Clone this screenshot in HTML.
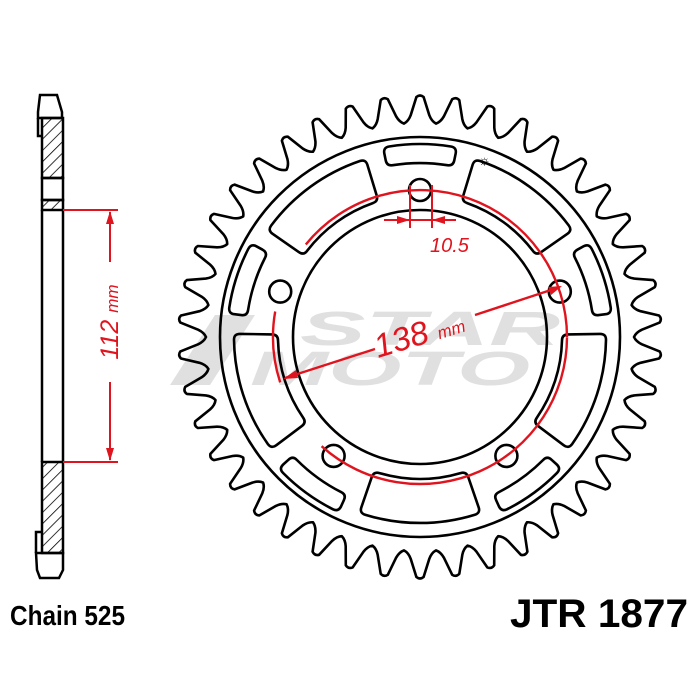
<!DOCTYPE html>
<html><head><style>
html,body{margin:0;padding:0;background:#fff;width:700px;height:700px;overflow:hidden}
svg{display:block}
text{font-family:"Liberation Sans",sans-serif}
</style></head><body>
<svg id="s" width="700" height="700" viewBox="0 0 700 700" xmlns="http://www.w3.org/2000/svg">
<defs>
<pattern id="h" width="8" height="8" patternUnits="userSpaceOnUse" patternTransform="rotate(45)">
<line x1="0" y1="0" x2="0" y2="8" stroke="#000" stroke-width="1.6"/>
</pattern>
</defs>
<g opacity="0.22" fill="#777" font-style="italic" font-weight="bold">
<text x="300" y="345" font-size="48" textLength="260" lengthAdjust="spacingAndGlyphs">STAR</text>
<text x="250" y="385" font-size="48" textLength="280" lengthAdjust="spacingAndGlyphs">MOTO</text>
<polygon points="170,385 215,315 255,315 210,385"/>
</g>
<g stroke="#000" stroke-width="2.5" fill="none">
<path d="M40,95 L57,95 L62,112 L62,118 L38,118 L38,112 Z"/>
<rect x="42" y="118" width="21" height="60" fill="url(#h)"/>
<path d="M38,118 L38,136 L42,136"/>
<rect x="42" y="178" width="21" height="22"/>
<rect x="42" y="200" width="21" height="10" fill="url(#h)"/>
<line x1="42" y1="210" x2="42" y2="462"/>
<line x1="63" y1="210" x2="63" y2="462"/>
<rect x="42" y="462" width="21" height="91" fill="url(#h)"/>
<path d="M42,532 L36,532 L36,553"/>
<path d="M36,553 L63,553 L63,570 L59,578 L40,578 L37,570 Z"/>
</g>
<g stroke="#e0141e" stroke-width="2" fill="#e0141e">
<line x1="63" y1="210" x2="118" y2="210"/>
<line x1="63" y1="462" x2="118" y2="462"/>
<line x1="110" y1="212" x2="110" y2="262" fill="none"/>
<line x1="110" y1="382" x2="110" y2="460" fill="none"/>
<polygon points="110,211 106,224 114,224" stroke="none"/>
<polygon points="110,461 106,448 114,448" stroke="none"/>
</g>
<text transform="translate(118,322) rotate(-90)" text-anchor="middle" font-size="25" font-style="italic" fill="#e0141e">112 <tspan font-size="17">mm</tspan></text>
<g id="spr" stroke="#000" stroke-width="2.6" fill="none" stroke-linejoin="round"></g>
<g stroke="#e0141e" stroke-width="2.4" fill="none" id="red"></g>
<g fill="#e0141e" stroke="#e0141e" stroke-width="2">
<line x1="410" y1="185" x2="410" y2="228"/>
<line x1="432" y1="185" x2="432" y2="228"/>
<line x1="384" y1="220" x2="456" y2="220"/>
<polygon points="410,220 397,216 397,224" stroke="none"/>
<polygon points="432,220 445,216 445,224" stroke="none"/>
</g>
<text x="430" y="252" font-size="20" font-style="italic" fill="#e0141e">10.5</text>
<text x="378" y="358" font-size="33" font-style="italic" fill="#e0141e" transform="rotate(-17 378 358)">138 <tspan font-size="17">mm</tspan></text>
<text x="10" y="625" font-size="28" font-weight="bold" textLength="115" lengthAdjust="spacingAndGlyphs">Chain 525</text>
<text x="510" y="627" font-size="40" font-weight="bold" textLength="178" lengthAdjust="spacingAndGlyphs">JTR 1877</text>
<text x="478" y="165" font-size="14">☼</text>
</svg>
<script>
var cx=420,cy=337,N=42,R=240,r=214;
function P(rr,a){return [(cx+rr*Math.cos(a)).toFixed(1),(cy-rr*Math.sin(a)).toFixed(1)];}
var d="",st=2*Math.PI/N;
for(var i=0;i<N;i++){var a=Math.PI/2+i*st;
 var p1=P(r,a-st*0.5),p2=P(r+8,a-st*0.28),p3=P(R,a-st*0.1),p4=P(R,a+st*0.1),p5=P(r+8,a+st*0.28);
 d+=(i?"L":"M")+p1+" Q"+P(r+2,a-st*0.36)+" "+p2+" L"+p3+" Q"+P(R+3,a)+" "+p4+" L"+p5+" Q"+P(r+2,a+st*0.36)+" "+P(r,a+st*0.5)+" ";}
d+="Z";
var rad=Math.PI/180;
function sector(r1,r2,a,w){
 var c=6, k1=c/r1, k2=c/r2, a1=(a-w)*rad, a2=(a+w)*rad;
 var s="M"+P(r1+c,a1)+" L"+P(r2-c,a1)+" Q"+P(r2,a1)+" "+P(r2,a1+k2)+
 " A"+r2+" "+r2+" 0 0 0 "+P(r2,a2-k2)+" Q"+P(r2,a2)+" "+P(r2-c,a2)+
 " L"+P(r1+c,a2)+" Q"+P(r1,a2)+" "+P(r1,a2-k1)+
 " A"+r1+" "+r1+" 0 0 1 "+P(r1,a1+k1)+" Q"+P(r1,a1)+" "+P(r1+c,a1)+" Z";
 return s;}
var g=document.getElementById("spr"),h="";
h+='<path d="'+d+'"/>';
h+='<circle cx="'+cx+'" cy="'+cy+'" r="200"/>';
h+='<circle cx="'+cx+'" cy="'+cy+'" r="127"/>';
[54,126,198,270,-18].forEach(function(a){h+='<path d="'+sector(142,186,a,19)+'"/>';});
[90,18,-54,-126,162].forEach(function(a){h+='<path d="'+sector(174,193,a,11)+'"/>';var p=P(147,a*rad);h+='<circle cx="'+p[0]+'" cy="'+p[1]+'" r="11"/>';});
g.innerHTML=h;
var red=document.getElementById("red");
function arc(a1,a2,rr){var p=P(rr,a1*rad),q=P(rr,a2*rad);return '<path d="M'+p+' A'+rr+' '+rr+' 0 '+((a2-a1)>180?1:0)+' 0 '+q+'"/>';}
red.innerHTML=arc(228,359.9,147)+arc(0,141,147)+arc(170,198,147)+'<line x1="285" y1="378" x2="375" y2="349"/><line x1="475" y1="315" x2="560" y2="287"/>'+'<polygon fill="#e0141e" stroke="none" points="283,379 296,370 298,378"/><polygon fill="#e0141e" stroke="none" points="562,286 548,287 551,295"/>';
</script>
</body></html>
